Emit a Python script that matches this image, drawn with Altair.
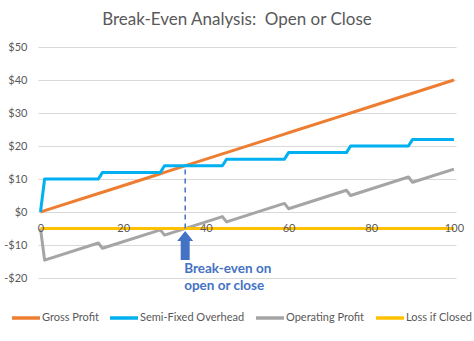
import altair as alt
import pandas as pd

# ---- data ----
x_vals = [0, 1, 14, 15, 29, 30, 44, 45, 59, 60, 74, 75, 89, 90, 100]
gross_profit = [0, 0.4, 5.6, 6, 11.6, 12, 17.6, 18, 23.6, 24, 29.6, 30, 35.6, 36, 40]
semi_fixed_overhead = [0, 10, 10, 12, 12, 14, 14, 16, 16, 18, 18, 20, 20, 22, 22]
operating_profit = [-5, -14.6, -9.4, -11, -5.4, -7, -1.4, -3, 2.6, 1, 6.6, 5, 10.6, 9, 13]
loss_x = [0, 100]
loss_if_closed = [-5, -5]

series_names = ["Gross Profit", "Semi-Fixed Overhead", "Operating Profit", "Loss if Closed"]
series_colors = ["#ED7D31", "#00B0F0", "#A5A5A5", "#FFC000"]

x_ticks = [0, 20, 40, 60, 80, 100]
y_ticks = [-20, -10, 0, 10, 20, 30, 40, 50]

break_even_x = [35]
break_even_low = [-5]
break_even_high = [14]
annotation_text = ["Break-even on\nopen or close"]

rows = []
for name, xs, ys in [
    ("Gross Profit", x_vals, gross_profit),
    ("Semi-Fixed Overhead", x_vals, semi_fixed_overhead),
    ("Operating Profit", x_vals, operating_profit),
    ("Loss if Closed", loss_x, loss_if_closed),
]:
    for i, (a, b) in enumerate(zip(xs, ys)):
        rows.append({"x": a, "y": b, "series": name, "ord": i})
df = pd.DataFrame(rows)

xscale = alt.Scale(domain=[-0.6, 100.5], nice=False, zero=False)
yscale = alt.Scale(domain=[-20, 50], nice=False, zero=False)

x_axis = alt.Axis(values=x_ticks, title=None, grid=False, domain=False, ticks=False,
                  tickSize=0, labelPadding=10, offset=-66, labelFontSize=11,
                  labelColor="#595959", labelFont="Lato", labelFlush=False, zindex=1)
y_axis = alt.Axis(values=y_ticks, title=None, grid=True, gridColor="#D9D9D9", gridWidth=1,
                  domain=False, ticks=False, tickSize=0, labelPadding=11, labelOverlap=False,
                  labelExpr="datum.value < 0 ? '-$' + abs(datum.value) : '$' + datum.value",
                  labelFontSize=11, labelColor="#595959", labelFont="Lato")

lines = alt.Chart(df).mark_line(strokeWidth=3, strokeJoin="round").encode(
    x=alt.X("x:Q", scale=xscale, axis=x_axis),
    y=alt.Y("y:Q", scale=yscale, axis=y_axis),
    color=alt.Color("series:N", sort=series_names,
                    scale=alt.Scale(domain=series_names, range=series_colors),
                    legend=alt.Legend(title=None, orient="none", direction="horizontal",
                                      legendX=-28, legendY=255, symbolType="stroke",
                                      symbolSize=784, symbolStrokeWidth=3.5, labelFontSize=11,
                                      labelColor="#595959", labelFont="Lato", labelOffset=0,
                                      columnPadding=4, labelLimit=0)),
    order="ord:Q",
)

be_df = pd.DataFrame({"x": break_even_x, "lo": break_even_low, "hi": break_even_high,
                      "txt": annotation_text})

rule = alt.Chart(be_df).mark_rule(color="#4472C4", strokeDash=[5, 4], strokeWidth=1.5).encode(
    x=alt.X("x:Q", scale=xscale, axis=x_axis), y=alt.Y("lo:Q", scale=yscale, axis=y_axis), y2="hi:Q"
)

arrow_path = "M0,-1L0.55,-0.31L0.31,-0.31L0.31,1L-0.31,1L-0.31,-0.31L-0.55,-0.31Z"
arrow = alt.Chart(be_df).mark_point(shape=arrow_path, filled=True, size=841, color="#4472C4",
                                    opacity=1, strokeWidth=0, clip=False, yOffset=17).encode(
    x=alt.X("x:Q", scale=xscale, axis=x_axis), y=alt.Y("lo:Q", scale=yscale, axis=y_axis)
)

label = alt.Chart(be_df).mark_text(align="left", baseline="top", fontSize=13.5, fontWeight="bold",
                                   font="Lato", color="#4472C4", lineBreak="\n", lineHeight=17,
                                   clip=False, dx=-1, yOffset=33).encode(
    x=alt.X("x:Q", scale=xscale, axis=x_axis), y=alt.Y("lo:Q", scale=yscale, axis=y_axis),
    text="txt:N"
)

chart = alt.layer(lines, rule, arrow, label).properties(
    width=418, height=231,
    autosize=alt.AutoSizeParams(type="none"),
    padding={"left": 38, "top": 47, "right": 18, "bottom": 63},
    background="white",
    title=alt.TitleParams("Break-Even Analysis: \u00a0Open or Close", font="Lato", fontSize=17,
                          fontWeight="normal", color="#595959", anchor="middle", offset=12, dx=-10),
).configure_view(stroke=None)

chart.save("out.html", embed_options={"renderer": "svg", "actions": False})
